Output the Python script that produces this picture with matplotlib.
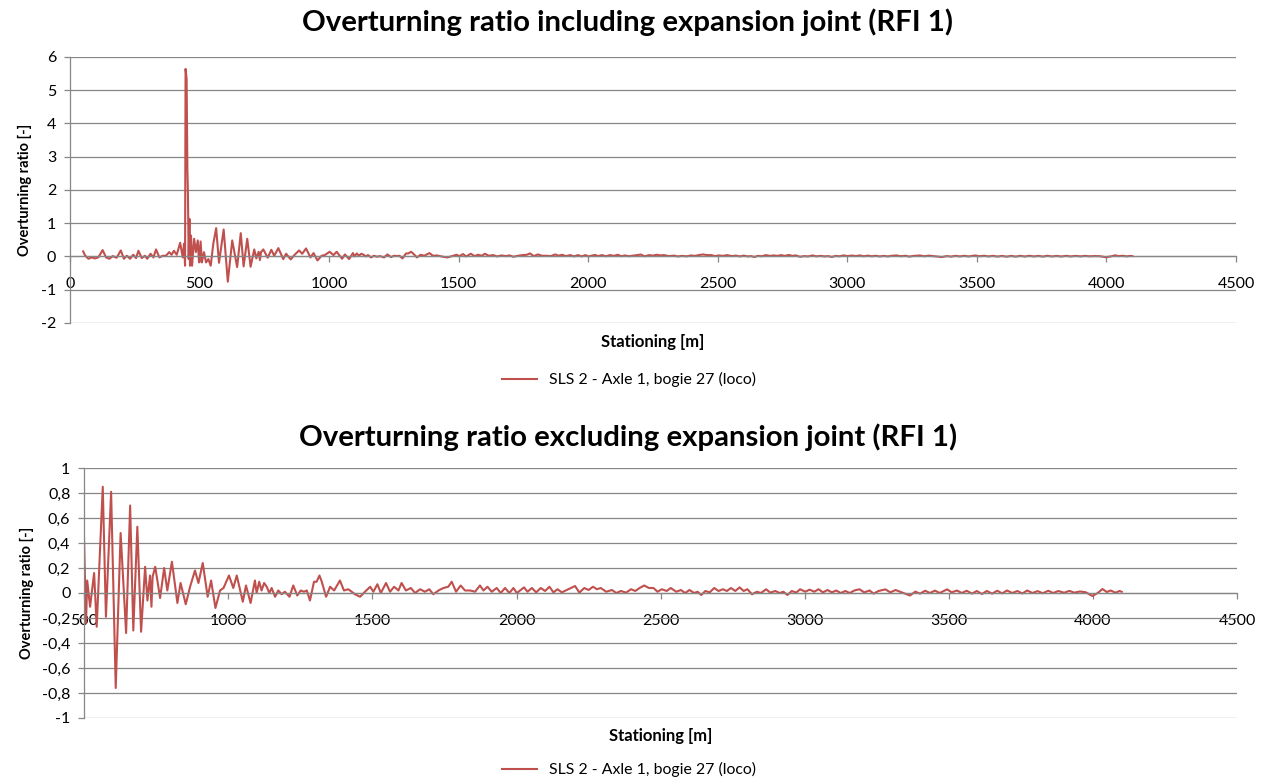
"""Overturning ratio along the bridge, with and without the expansion joint (RFI 1)."""

import matplotlib
matplotlib.use("Agg")
import matplotlib.pyplot as plt
from matplotlib.ticker import FuncFormatter, MultipleLocator

# stationing [m] / overturning ratio [-]
# first stretch, including the expansion joint spike
incl_head_station = [51, 58, 71, 84, 96, 109, 126, 139, 152, 165, 180, 196, 208, 219, 232, 244, 255,
                     264, 277, 289, 298, 311, 322, 332, 345, 358, 370, 383, 392, 401, 412, 425, 435,
                     440, 444, 446, 450, 453, 455, 458, 461, 463, 467, 471, 479, 486, 493, 498, 504,
                     509, 517, 525, 534, 543, 553]
incl_head_ratio = [0.15, 0.03, -0.07, -0.03, -0.06, -0.03, 0.19, -0.03, -0.07, 0.01, -0.04, 0.18, -0.07,
                   0.02, -0.07, 0.05, -0.05, 0.17, -0.05, 0.02, -0.07, 0.08, -0.03, 0.21, -0.03, 0.02,
                   0.02, 0.13, 0.05, 0.17, 0.05, 0.41, -0.03, 0.38, -0.28, 5.64, 5.34, 2.63, 1.93,
                   -0.08, 1.13, -0.28, 0.63, -0.28, 0.53, 0.13, 0.48, -0.18, 0.45, -0.18, 0.13, -0.18,
                   -0.08, -0.28, 0.38]

# first stretch, expansion joint excluded
excl_head_station = [499, 506, 510, 520, 534, 543]
excl_head_ratio = [0.44, -0.24, 0.10, -0.11, 0.16, -0.27]

# remainder of the track, same in both runs
common_station = [564, 575, 593, 609, 626, 645, 659, 670, 684, 697, 711, 719, 728, 733, 737, 746, 763,
                  777, 788, 804, 823, 834, 852, 867, 884, 896, 911, 928, 940, 955, 971, 983, 1002,
                  1017, 1029, 1050, 1061, 1077, 1092, 1098, 1107, 1115, 1124, 1133, 1142, 1150, 1162,
                  1173, 1185, 1196, 1212, 1225, 1239, 1251, 1262, 1272, 1283, 1297, 1306, 1316, 1324,
                  1339, 1353, 1367, 1387, 1401, 1416, 1428, 1439, 1457, 1474, 1492, 1503, 1517, 1529,
                  1547, 1561, 1575, 1590, 1601, 1616, 1633, 1648, 1665, 1682, 1697, 1711, 1729, 1746,
                  1763, 1775, 1790, 1806, 1821, 1839, 1856, 1873, 1885, 1899, 1914, 1931, 1945, 1960,
                  1975, 1989, 2001, 2012, 2026, 2038, 2053, 2068, 2084, 2099, 2114, 2128, 2142, 2157,
                  2174, 2203, 2218, 2235, 2250, 2265, 2279, 2292, 2311, 2331, 2346, 2362, 2380, 2397,
                  2412, 2427, 2443, 2459, 2475, 2489, 2504, 2521, 2535, 2554, 2570, 2585, 2600, 2616,
                  2628, 2641, 2655, 2670, 2686, 2701, 2716, 2730, 2744, 2759, 2774, 2788, 2801, 2817,
                  2834, 2848, 2866, 2880, 2898, 2913, 2926, 2940, 2955, 2970, 2984, 3002, 3017, 3033,
                  3048, 3063, 3079, 3094, 3109, 3125, 3141, 3156, 3172, 3190, 3206, 3225, 3239, 3256,
                  3280, 3297, 3315, 3340, 3365, 3384, 3400, 3418, 3434, 3452, 3468, 3494, 3510, 3528,
                  3545, 3562, 3580, 3597, 3615, 3632, 3650, 3668, 3685, 3702, 3720, 3738, 3755, 3772,
                  3790, 3808, 3826, 3845, 3862, 3880, 3900, 3918, 3935, 3955, 3975, 3998, 4018, 4033,
                  4048, 4062, 4078, 4092, 4100]
common_ratio = [0.85, -0.19, 0.81, -0.76, 0.48, -0.32, 0.70, -0.30, 0.53, -0.31, 0.21, -0.06, 0.14,
                -0.11, 0.13, 0.21, -0.04, 0.20, 0.02, 0.25, -0.08, 0.08, -0.09, 0.05, 0.18, 0.08, 0.24,
                -0.03, 0.10, -0.12, 0.02, 0.04, 0.14, 0.04, 0.14, -0.07, 0.06, -0.08, 0.10, 0.0, 0.09,
                0.02, 0.08, 0.05, 0.0, 0.04, -0.03, 0.02, -0.01, 0.01, -0.03, 0.06, -0.02, 0.02, 0.01,
                0.02, -0.06, 0.09, 0.09, 0.14, 0.09, -0.03, 0.05, 0.02, 0.10, 0.02, 0.03, 0.01, -0.01,
                -0.03, 0.01, 0.05, 0.01, 0.07, 0.0, 0.08, 0.01, 0.05, 0.02, 0.08, 0.02, 0.04, 0.0, 0.03,
                0.01, 0.03, -0.01, 0.02, 0.04, 0.05, 0.09, 0.01, 0.06, 0.02, 0.02, 0.01, 0.06, 0.02,
                0.05, 0.01, 0.04, 0.0, 0.04, 0.0, 0.04, 0.0, 0.02, 0.045, 0.01, 0.04, 0.005, 0.04,
                0.016, 0.05, 0.005, 0.03, 0.005, 0.024, 0.056, 0.003, 0.04, 0.024, 0.05, 0.03, 0.04,
                0.01, 0.024, 0.0, 0.016, 0.003, 0.03, 0.016, 0.04, 0.06, 0.04, 0.04, 0.01, 0.03, 0.016,
                0.04, 0.01, 0.024, 0.0, 0.024, 0.0, 0.01, -0.016, 0.016, 0.005, 0.04, 0.016, 0.03,
                0.016, 0.04, 0.016, 0.045, 0.016, 0.03, -0.01, 0.01, 0.0, 0.03, 0.003, 0.016, 0.0,
                0.01, -0.016, 0.016, 0.003, 0.03, 0.01, 0.027, 0.01, 0.03, 0.005, 0.024, 0.005, 0.02,
                0.0, 0.016, 0.0, 0.02, 0.03, 0.005, 0.02, -0.005, 0.016, 0.029, 0.005, 0.024, 0.002,
                -0.02, 0.011, -0.005, 0.018, 0.0, 0.019, 0.0, 0.029, 0.005, 0.02, 0.0, 0.018, -0.005,
                0.016, -0.008, 0.016, -0.005, 0.018, -0.003, 0.02, 0.0, 0.016, -0.004, 0.02, 0.0,
                0.015, -0.002, 0.018, 0.0, 0.016, 0.002, 0.017, 0.003, 0.012, 0.006, -0.024, 0.002,
                0.032, 0.008, 0.02, 0.002, 0.016, 0.01]

series_label = "SLS 2 - Axle 1, bogie 27 (loco)"
titles = ["Overturning ratio including expansion joint (RFI 1)",
          "Overturning ratio excluding expansion joint (RFI 1)"]

LINE = "#C0504D"
GRID = "#868686"
FONT = "Lato"

plt.rcParams["axes.unicode_minus"] = False


def comma(value, _pos):
    text = f"{value:.1f}".rstrip("0").rstrip(".")
    return "0" if text in ("0", "-0") else text.replace(".", ",")


def style(axis, xlim, ylim, ystep, ytick_len):
    axis.set_xlim(*xlim)
    axis.set_ylim(*ylim)
    axis.yaxis.set_major_locator(MultipleLocator(ystep))
    axis.xaxis.set_major_locator(MultipleLocator(500))
    axis.grid(axis="y", color=GRID, linewidth=0.9)
    axis.set_axisbelow(True)
    for side in ("top", "right"):
        axis.spines[side].set_visible(False)
    axis.spines["bottom"].set_position(("data", 0))
    for side in ("left", "bottom"):
        axis.spines[side].set_color(GRID)
        axis.spines[side].set_linewidth(0.9)
    axis.tick_params(axis="x", direction="out", length=4, width=0.9, color=GRID, pad=11,
                     labelsize=11.5, labelcolor="#000000")
    axis.tick_params(axis="y", direction="out", length=ytick_len, width=0.9, color=GRID, pad=6,
                     labelsize=11.5, labelcolor="#000000")
    for label in axis.get_xticklabels() + axis.get_yticklabels():
        label.set_family(FONT)
    axis.set_ylabel("Overturning ratio [-]", family=FONT, fontweight="bold", fontsize=10.5, labelpad=6)


def main():
    figure = plt.figure(figsize=(12.66, 7.8), dpi=100)

    top = figure.add_axes([0.0553, 0.586, 0.921, 0.341])
    top.plot(incl_head_station + common_station, incl_head_ratio + common_ratio,
             color=LINE, linewidth=1.5, solid_joinstyle="round", label=series_label)
    style(top, (0, 4500), (-2, 6), 1, 4)
    top.set_xlabel("Stationing [m]", family=FONT, fontweight="bold", fontsize=12)
    top.xaxis.set_label_coords(0.5, -0.04)

    bottom = figure.add_axes([0.0666, 0.0795, 0.9105, 0.3205])
    bottom.plot(excl_head_station + common_station, excl_head_ratio + common_ratio,
                color=LINE, linewidth=1.5, solid_joinstyle="round", label=series_label)
    style(bottom, (500, 4500), (-1, 1), 0.2, 4)
    bottom.yaxis.set_major_formatter(FuncFormatter(comma))
    bottom.set_xlabel("Stationing [m]", family=FONT, fontweight="bold", fontsize=12)
    bottom.xaxis.set_label_coords(0.5, -0.04)

    for axis, title, ty, ly in [(top, titles[0], 0.972, 0.513), (bottom, titles[1], 0.440, 0.013)]:
        figure.text(0.496, ty, title, ha="center", va="center", family=FONT,
                    fontweight="bold", fontsize=21.2)
        figure.legend(handles=axis.get_lines(), loc="center", bbox_to_anchor=(0.497, ly),
                      frameon=False, prop={"family": FONT, "size": 11.4}, handlelength=2.2)

    figure.savefig("out.png", dpi=100)
    plt.close(figure)


if __name__ == "__main__":
    main()
